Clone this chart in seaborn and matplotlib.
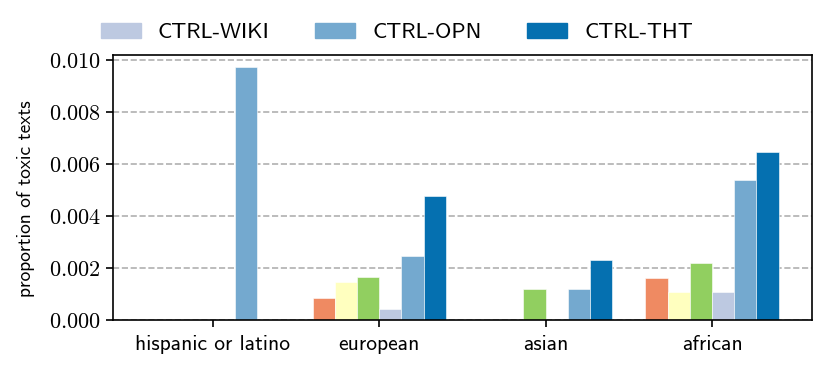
import pandas as pd
import matplotlib
matplotlib.use("Agg")
import matplotlib.pyplot as plt
from matplotlib.ticker import FuncFormatter
import seaborn as sns

# values
groups = ["hispanic or latino", "european", "asian", "african"]
models = ["GPT-A", "GPT-B", "GPT-C", "CTRL-WIKI", "CTRL-OPN", "CTRL-THT"]
colors = ["#ef8a62", "#ffffbf", "#91cf60", "#bdc9e1", "#74a9cf", "#0570b0"]
legend_models = ["CTRL-WIKI", "CTRL-OPN", "CTRL-THT"]

toxic = {
    "GPT-A":     [0.0, 0.00084, 0.0, 0.00163],
    "GPT-B":     [0.0, 0.00146, 0.0, 0.00109],
    "GPT-C":     [0.0, 0.00166, 0.00118, 0.00218],
    "CTRL-WIKI": [0.0, 0.00042, 0.0, 0.00109],
    "CTRL-OPN":  [0.00973, 0.00248, 0.00118, 0.00541],
    "CTRL-THT":  [0.0, 0.00477, 0.00233, 0.00649],
}

rows = []
for m in models:
    for g, v in zip(groups, toxic[m]):
        rows.append({"group": g, "model": m, "value": v})
df = pd.DataFrame(rows)

sns.set_style("white")
plt.rcParams["font.family"] = ["cmss10", "DejaVu Sans"]
plt.rcParams["mathtext.fontset"] = "cm"
plt.rcParams["axes.unicode_minus"] = False
plt.rcParams["text.color"] = "black"
plt.rcParams["axes.labelcolor"] = "black"
plt.rcParams["xtick.color"] = "black"
plt.rcParams["ytick.color"] = "black"

fig = plt.figure(figsize=(8.31, 3.73), dpi=100)
ax = fig.add_axes([0.136, 0.142, 0.841, 0.711])

sns.barplot(data=df, x="group", y="value", hue="model", order=groups,
            hue_order=models, palette=colors, saturation=1, width=0.8, ax=ax,
            edgecolor="white", linewidth=0.4, legend=False)

ax.set_xlim(-0.6, 3.6)
ax.set_xlabel("")
ax.set_ylabel("proportion of toxic texts", fontsize=14)
ax.yaxis.set_label_coords(-0.112, 0.458)
ax.set_yticks([0, 0.002, 0.004, 0.006, 0.008, 0.010])
ax.yaxis.set_major_formatter(FuncFormatter(lambda v, _: f"${v:.3f}$"))
ax.tick_params(axis="y", labelsize=16, length=5, width=1.2, direction="out", left=True, pad=4)
ax.tick_params(axis="x", labelsize=15.5, length=5, width=1.2, direction="out", bottom=True, pad=6)
ax.yaxis.grid(True, linestyle="--", color="#b0b0b0", linewidth=1.2)
ax.set_axisbelow(True)
for s in ax.spines.values():
    s.set_visible(True)
    s.set_color("black")
    s.set_linewidth(1.2)

handles = [plt.Rectangle((0, 0), 1, 1, color=colors[models.index(m)]) for m in legend_models]
fig.legend(handles, legend_models, loc="center left", bbox_to_anchor=(0.105, 0.912),
           ncol=3, frameon=False, fontsize=16, handlelength=1.8, handleheight=0.65,
           columnspacing=2.05, handletextpad=0.77, borderpad=0.1)

fig.savefig("out.png", dpi=100)
